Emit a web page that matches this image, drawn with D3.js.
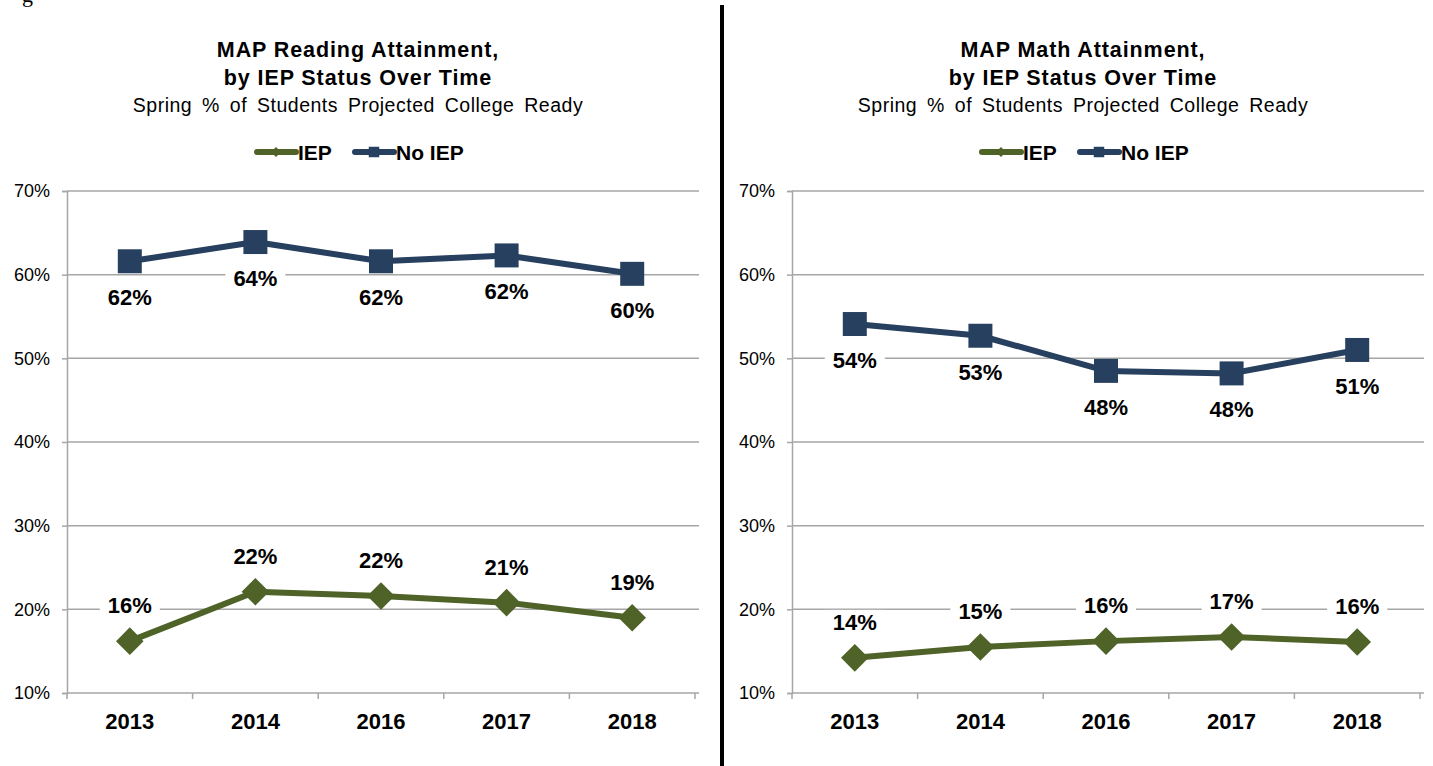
<!DOCTYPE html>
<html>
<head>
<meta charset="utf-8">
<script src="https://cdn.jsdelivr.net/npm/d3@7"></script>
<style>
  body { margin: 0; background: #fff; }
  svg { display: block; font-family: "Liberation Sans", Arial, sans-serif; }
</style>
</head>
<body>
<svg id="chart" width="1433" height="766"></svg>
<script>
const years = ["2013", "2014", "2016", "2017", "2018"];
const yTicks = [10, 20, 30, 40, 50, 60, 70];

const readingIEP = [16.2, 22.1, 21.6, 20.8, 19.0];
const readingNoIEP = [61.6, 63.9, 61.6, 62.3, 60.1];
const readingIEPLabels = ["16%", "22%", "22%", "21%", "19%"];
const readingNoIEPLabels = ["62%", "64%", "62%", "62%", "60%"];

const mathIEP = [14.2, 15.5, 16.2, 16.7, 16.1];
const mathNoIEP = [54.1, 52.7, 48.5, 48.2, 51.0];
const mathIEPLabels = ["14%", "15%", "16%", "17%", "16%"];
const mathNoIEPLabels = ["54%", "53%", "48%", "48%", "51%"];

const GREEN = "#4f6228";
const NAVY = "#27405f";
const GRID = "#a6a6a6";

const svg = d3.select("#chart");

// cut-off caption glyph at the very top
svg.append("text")
    .attr("x", 22).attr("y", 2)
    .attr("font-family", "Liberation Serif, serif")
    .attr("font-size", 22)
    .text("g");

// divider between the two charts
svg.append("line")
    .attr("x1", 722).attr("x2", 722)
    .attr("y1", 5).attr("y2", 766)
    .attr("stroke", "#000")
    .attr("stroke-width", 4);

function drawChart(opts) {
    const g = svg.append("g");
    const x = d3.scaleBand().domain(years).range([opts.left, opts.right]);
    const y = d3.scaleLinear().domain([10, 70]).range([693, 191]);

    // titles
    const tc = opts.titleCenter;
    g.append("text").attr("x", tc).attr("y", 57).attr("text-anchor", "middle")
        .attr("font-size", 21.5).attr("font-weight", "bold").attr("letter-spacing", 0.9)
        .text(opts.title1);
    g.append("text").attr("x", tc).attr("y", 85).attr("text-anchor", "middle")
        .attr("font-size", 21.5).attr("font-weight", "bold").attr("letter-spacing", 0.9)
        .text("by IEP Status Over Time");
    g.append("text").attr("x", tc).attr("y", 112).attr("text-anchor", "middle")
        .attr("font-size", 19.5).attr("letter-spacing", 0.5).attr("word-spacing", 4)
        .text("Spring % of Students Projected College Ready");

    // legend
    const leg = g.append("g").attr("transform", `translate(${tc - 103},152)`);
    const legItems = [
        {name: "IEP", color: GREEN, shape: "diamond", dx: 0},
        {name: "No IEP", color: NAVY, shape: "square", dx: 98}
    ];
    legItems.forEach(it => {
        const li = leg.append("g").attr("transform", `translate(${it.dx},0)`);
        li.append("line").attr("x1", 2).attr("x2", 41).attr("y1", 0).attr("y2", 0)
            .attr("stroke", it.color).attr("stroke-width", 6).attr("stroke-linecap", "round");
        li.append("path")
            .attr("d", d3.symbol().type(d3.symbolSquare).size(it.shape === "diamond" ? 50 : 110)())
            .attr("transform", it.shape === "diamond" ? "translate(21,0) rotate(45)" : "translate(21,0)")
            .attr("fill", it.color);
        li.append("text").attr("x", 43).attr("y", 7.5).attr("font-size", 21)
            .attr("font-weight", "bold").text(it.name);
    });

    // gridlines
    g.append("g").selectAll("line").data(yTicks.slice(1)).join("line")
        .attr("x1", opts.left).attr("x2", opts.right + 4)
        .attr("y1", d => y(d)).attr("y2", d => y(d))
        .attr("stroke", GRID).attr("stroke-width", 1.5);

    // y axis
    const yAxis = g.append("g").attr("transform", `translate(${opts.left},0)`)
        .call(d3.axisLeft(y).tickValues(yTicks).tickFormat(d => d + "%").tickSize(5).tickPadding(12));
    yAxis.select(".domain").attr("stroke", GRID).attr("stroke-width", 1.5);
    yAxis.selectAll(".tick line").attr("stroke", GRID).attr("stroke-width", 1.5);
    yAxis.selectAll("text").attr("font-size", 18).attr("fill", "#000")
        .attr("font-family", "Liberation Sans, Arial, sans-serif");

    // x axis
    const xAxis = g.append("g").attr("transform", `translate(0,${y(10)})`);
    xAxis.append("line").attr("x1", opts.left).attr("x2", opts.right + 4)
        .attr("y1", 0).attr("y2", 0).attr("stroke", GRID).attr("stroke-width", 1.5);
    const edges = years.map(d => x(d)).concat([opts.right]);
    xAxis.selectAll("line.tk").data(edges).join("line").attr("class", "tk")
        .attr("x1", d => d).attr("x2", d => d).attr("y1", 0).attr("y2", 6)
        .attr("stroke", GRID).attr("stroke-width", 1.5);
    xAxis.selectAll("text").data(years).join("text")
        .attr("x", d => x(d) + x.bandwidth() / 2).attr("y", 36)
        .attr("text-anchor", "middle").attr("font-size", 22).attr("font-weight", "bold")
        .text(d => d);

    const cx = d => x(d) + x.bandwidth() / 2;
    const line = d3.line().x((d, i) => cx(years[i])).y(d => y(d));

    const series = [
        {values: opts.noIEP, labels: opts.noIEPLabels, color: NAVY, shape: "square", dy: 44},
        {values: opts.iep, labels: opts.iepLabels, color: GREEN, shape: "diamond", dy: -28}
    ];

    series.forEach(s => {
        g.append("path").datum(s.values).attr("d", line)
            .attr("fill", "none").attr("stroke", s.color).attr("stroke-width", 6)
            .attr("stroke-linejoin", "round");
        g.append("g").selectAll("path").data(s.values).join("path")
            .attr("d", d3.symbol().type(d3.symbolSquare).size(s.shape === "square" ? 576 : 380)())
            .attr("transform", (d, i) => `translate(${cx(years[i])},${y(d)})` + (s.shape === "diamond" ? " rotate(45)" : ""))
            .attr("fill", s.color);
    });

    // data labels with white backing
    series.forEach(s => {
        const lg = g.append("g");
        s.values.forEach((v, i) => {
            const t = lg.append("text")
                .attr("x", cx(years[i])).attr("y", y(v) + s.dy)
                .attr("text-anchor", "middle").attr("font-size", 22).attr("font-weight", "bold")
                .text(s.labels[i]);
            const b = t.node().getBBox();
            lg.insert("rect", () => t.node())
                .attr("x", b.x - 8).attr("y", b.y)
                .attr("width", b.width + 16).attr("height", b.height)
                .attr("fill", "#fff");
        });
    });
}

drawChart({
    left: 67, right: 695, titleCenter: 358,
    title1: "MAP Reading Attainment,",
    iep: readingIEP, noIEP: readingNoIEP,
    iepLabels: readingIEPLabels, noIEPLabels: readingNoIEPLabels
});

drawChart({
    left: 792, right: 1420, titleCenter: 1083,
    title1: "MAP Math Attainment,",
    iep: mathIEP, noIEP: mathNoIEP,
    iepLabels: mathIEPLabels, noIEPLabels: mathNoIEPLabels
});
</script>
</body>
</html>
